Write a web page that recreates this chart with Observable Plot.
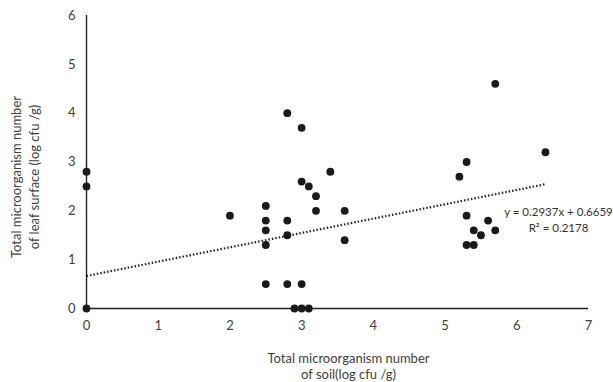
<!DOCTYPE html>
<html>
<head>
<meta charset="utf-8">
<script src="https://cdn.jsdelivr.net/npm/d3@7"></script>
<script src="https://cdn.jsdelivr.net/npm/@observablehq/plot@0.6"></script>
<style>
  html, body { margin: 0; padding: 0; background: #fff; }
  #chart { width: 613px; height: 382px; }
</style>
</head>
<body>
<div id="chart"></div>
<script>
// Soil total microorganism (log cfu/g)
const soil = [0, 0, 0, 2.0, 2.5, 2.5, 2.5, 2.5, 2.5, 2.8, 2.8, 2.8, 2.8, 2.9, 3.0, 3.0, 3.0, 3.0, 3.1, 3.1, 3.2, 3.2, 3.4, 3.6, 3.6,
              5.2, 5.3, 5.3, 5.3, 5.4, 5.4, 5.5, 5.6, 5.7, 5.7, 6.4];
// Leaf surface total microorganism (log cfu/g)
const leaf = [0, 2.5, 2.8, 1.9, 2.1, 1.8, 1.6, 1.3, 0.5, 4.0, 1.8, 1.5, 0.5, 0, 3.7, 2.6, 0.5, 0, 2.5, 0, 2.3, 2.0, 2.8, 2.0, 1.4,
              2.7, 3.0, 1.9, 1.3, 1.6, 1.3, 1.5, 1.8, 4.6, 1.6, 3.2];
const slope = 0.2937;
const intercept = 0.6659;
const r2 = 0.2178;
const xTicks = [0, 1, 2, 3, 4, 5, 6, 7];
const yTicks = [0, 1, 2, 3, 4, 5, 6];
const xTitle = "Total microorganism number\nof soil(log cfu /g)";
const yTitle = "Total microorganism number\nof leaf surface (log cfu /g)";

const points = soil.map((s, i) => ({x: s, y: leaf[i]}));
const xMax = d3.max(soil);
const trend = [0, xMax].map(x => ({x, y: slope * x + intercept}));
const eqLabel = [{x: xMax, y: slope * xMax + intercept,
  text: `y = ${slope}x + ${intercept}\nR² = ${r2}`}];

const font = "Lato, 'Open Sans', sans-serif";
const textColor = "#404040";

const chart = Plot.plot({
  width: 613,
  height: 382,
  marginLeft: 86,
  marginRight: 25,
  marginTop: 15,
  marginBottom: 74,
  style: {fontFamily: font, fontSize: "13px", color: textColor, background: "#fff", overflow: "visible"},
  x: {domain: [0, 7]},
  y: {domain: [0, 6]},
  marks: [
    Plot.axisX({ticks: xTicks, tickSize: 0, tickPadding: 12, tickFormat: d3.format("d"),
      fontSize: 13, label: null}),
    Plot.axisY({ticks: yTicks, tickSize: 0, tickPadding: 11, tickFormat: d3.format("d"),
      fontSize: 13, label: null}),
    Plot.text([xTitle], {frameAnchor: "bottom", textAnchor: "middle", lineAnchor: "middle",
      dx: 11, dy: 57, fontSize: 13, fill: textColor, lineHeight: 1.25}),
    Plot.text([yTitle], {frameAnchor: "left", textAnchor: "middle", lineAnchor: "middle", rotate: -90,
      dx: -62, dy: 15, fontSize: 13, fill: textColor, lineHeight: 1.35}),
    Plot.ruleY([0], {stroke: "#222", strokeWidth: 1.4}),
    Plot.ruleX([0], {stroke: "#222", strokeWidth: 1.4}),
    Plot.line(trend, {x: "x", y: "y", stroke: "#222", strokeWidth: 2.2, strokeDasharray: "1.5,2", strokeLinecap: "butt"}),
    Plot.dot(points, {x: "x", y: "y", r: 3.9, fill: "#1a1a1a", stroke: "none"}),
    Plot.text(eqLabel, {x: "x", y: "y", text: "text", textAnchor: "middle", lineAnchor: "middle",
      dx: 13, dy: 35, fontSize: 11.5, fill: "#333", lineHeight: 1.35})
  ]
});
document.getElementById("chart").appendChild(chart);
</script>
</body>
</html>
